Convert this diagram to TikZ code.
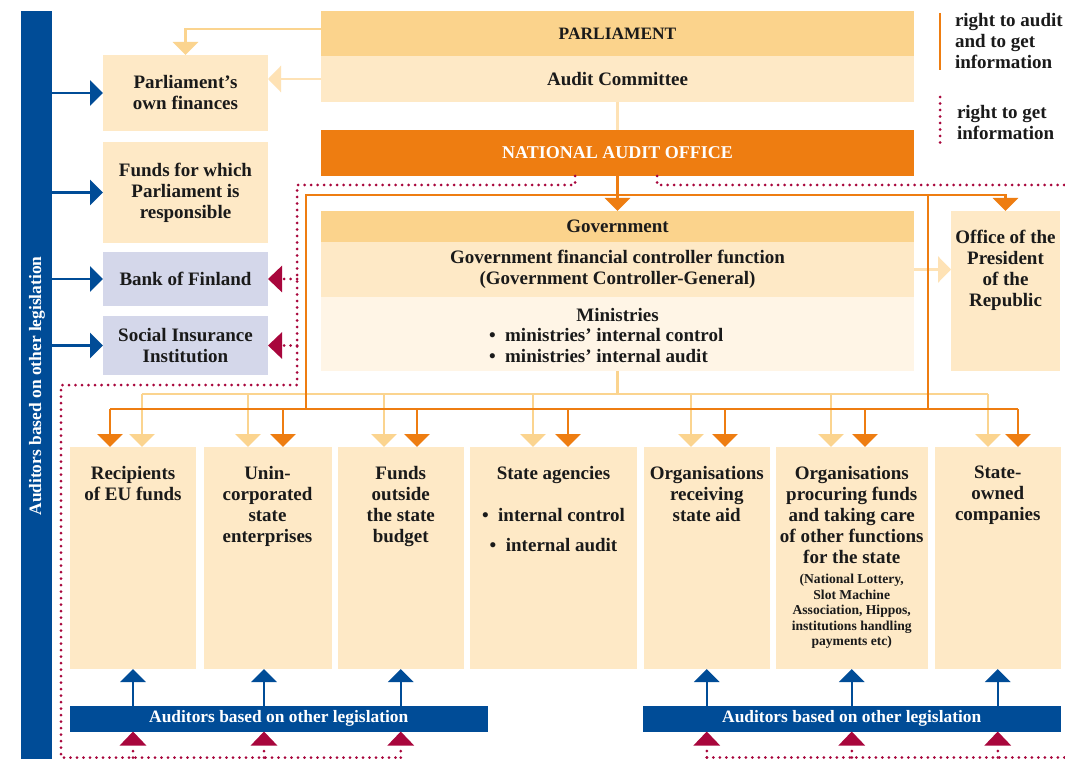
\documentclass[tikz,border=0pt]{standalone}
\usepackage{fontspec}
\setmainfont{Liberation Serif}
\usetikzlibrary{arrows.meta}
\definecolor{dkY}{HTML}{FBD38C}
\definecolor{ltY}{HTML}{FEE9C6}
\definecolor{vlY}{HTML}{FFF5E6}
\definecolor{orng}{HTML}{EE7D11}
\definecolor{yline}{HTML}{FBD48F}
\definecolor{pline}{HTML}{FEE2B5}
\definecolor{blu}{HTML}{004C97}
\definecolor{lav}{HTML}{D4D7EA}
\definecolor{crim}{HTML}{A8063C}
\definecolor{ink}{HTML}{1A1A1A}
\begin{document}
\begin{tikzpicture}[x=1pt,y=-1pt,
  every node/.style={inner sep=0pt, outer sep=0pt, text=ink, font=\bfseries\fontsize{19}{21}\selectfont},
  smalltxt/.style={font=\bfseries\fontsize{13.6}{15.5}\selectfont},
  bartxt/.style={text=white, font=\bfseries\fontsize{17.4}{19}\selectfont},
  oline/.style={draw=orng, line width=2.5pt},
  oarr/.style={oline, -{Triangle[width=25pt,length=13pt]}},
  yl/.style={draw=yline, line width=2.5pt},
  yarr/.style={yl, -{Triangle[width=25pt,length=13pt]}},
  pl/.style={draw=pline, line width=2.5pt},
  parr/.style={pl, -{Triangle[width=26pt,length=13pt]}},
  barr/.style={draw=blu, line width=2.5pt, -{Triangle[width=25pt,length=13pt]}},
  dots/.style={draw=crim, line width=3pt, line cap=round, dash pattern=on 0pt off 6.5pt},
  rarr/.style={dots, -{Triangle[width=26pt,length=14pt]}},
]
\useasboundingbox (0,0) rectangle (1065,759);
\fill[white] (0,0) rectangle (1065,759);

% left vertical bar
\node[fill=blu, minimum width=31pt, minimum height=748pt] (bar) at (36.5,385) {};
\node[bartxt, rotate=90] (bartext) at (37,386) {Auditors based on other legislation};

% top column
\node[fill=dkY, minimum width=593pt, minimum height=45pt, font=\bfseries\fontsize{17.4}{19}\selectfont] (parl) at (617.5,33.5) {PARLIAMENT};
\node[fill=ltY, minimum width=593pt, minimum height=46pt] (audit) at (617.5,79) {Audit Committee};
\node[fill=orng, text=white, minimum width=593pt, minimum height=46pt, font=\bfseries\fontsize{18}{20}\selectfont] (nao) at (617.5,153) {NATIONAL AUDIT OFFICE};

% left boxes
\node[fill=ltY, minimum width=165pt, minimum height=76pt, align=center] (own) at (185.5,93) {Parliament's\\own finances};
\node[fill=ltY, minimum width=165pt, minimum height=101pt, align=center] (funds) at (185.5,192.5) {Funds for which\\Parliament is\\responsible};
\node[fill=lav, minimum width=165pt, minimum height=54pt] (bank) at (185.5,279) {Bank of Finland};
\node[fill=lav, minimum width=165pt, minimum height=59pt, align=center] (social) at (185.5,345.5) {Social Insurance\\Institution};

% government
\node[fill=dkY, minimum width=593pt, minimum height=31pt] (gov) at (617.5,226.5) {Government};
\node[fill=ltY, minimum width=593pt, minimum height=55pt, align=center] (ctrl) at (617.5,269.5) {Government financial controller function\\(Government Controller-General)};
\node[fill=vlY, minimum width=593pt, minimum height=74pt] (min) at (617.5,334) {};
\node (mint) at (617.5,315) {Ministries};
\node[anchor=west, align=left] (minl) at (489,346) {\textbullet\ \ ministries' internal control\\\textbullet\ \ ministries' internal audit};

% office of the president
\node[fill=ltY, minimum width=109pt, minimum height=160pt] (office) at (1005.5,291) {};
\node[anchor=north, align=center] (officet) at ([yshift=-19pt]office.north) {Office of the\\President\\of the\\Republic};

% bottom boxes
\node[fill=ltY, minimum width=126pt, minimum height=222pt] (b1) at (133,558) {};
\node[fill=ltY, minimum width=128pt, minimum height=222pt] (b2) at (267.5,558) {};
\node[fill=ltY, minimum width=126.5pt, minimum height=222pt] (b3) at (400.75,558) {};
\node[fill=ltY, minimum width=167pt, minimum height=222pt] (b4) at (553.5,558) {};
\node[fill=ltY, minimum width=126.5pt, minimum height=222pt] (b5) at (706.75,558) {};
\node[fill=ltY, minimum width=151.5pt, minimum height=222pt] (b6) at (851.75,558) {};
\node[fill=ltY, minimum width=125.5pt, minimum height=222pt] (b7) at (997.75,558) {};

\node[anchor=north, align=center] (t1) at ([yshift=-19pt]b1.north) {Recipients\\of EU funds};
\node[anchor=north, align=center] (t2) at ([yshift=-19pt]b2.north) {Unin-\\corporated\\state\\enterprises};
\node[anchor=north, align=center] (t3) at ([yshift=-19pt]b3.north) {Funds\\outside\\the state\\budget};
\node[anchor=north, align=center] (t4) at ([yshift=-19pt]b4.north) {State agencies\\[21pt]\textbullet\ \ internal control\\[9pt]\textbullet\ \ internal audit};
\node[anchor=north, align=center] (t5) at ([yshift=-19pt]b5.north) {Organisations\\receiving\\state aid};
\node[anchor=north, align=center] (t6) at ([yshift=-19pt]b6.north) {Organisations\\procuring funds\\and taking care\\of other functions\\for the state};
\node[anchor=north, align=center, smalltxt] (t6s) at ([yshift=-127.5pt]b6.north) {(National Lottery,\\Slot Machine\\Association, Hippos,\\institutions handling\\payments etc)};
\node[anchor=north, align=center] (t7) at ([yshift=-19pt]b7.north) {State-\\owned\\companies};

% auditors bars
\node[fill=blu, bartxt, minimum width=418.5pt, minimum height=25.5pt] (aud1) at (278.75,718.75) {Auditors based on other legislation};
\node[fill=blu, bartxt, minimum width=418.5pt, minimum height=25.5pt] (aud2) at (851.75,718.75) {Auditors based on other legislation};

% legend
\coordinate (lgA) at (940,13); \coordinate (lgB) at (940,70);
\draw[oline] (lgA) -- (lgB);
\node[anchor=west, align=left] (lgt1) at (955,41.5) {right to audit\\and to get\\information};
\coordinate (lgC) at (940,97); \coordinate (lgD) at (940,148);
\draw[dots] (lgC) -- (lgD);
\node[anchor=west, align=left] (lgt2) at (957,123) {right to get\\information};

% pale / yellow connectors
\draw[yarr] ([yshift=4.5pt]parl.west) -| (own.north);
\draw[parr] (audit.west) -- (audit.west -| own.east);
\draw[pl] (audit.south) -- (nao.north);
\draw[parr] (ctrl.east) -- (ctrl.east -| office.west);

\coordinate (ybl) at (142,394); \coordinate (ybr) at (988,394);
\draw[yl] (min.south) -- (min.south |- ybl);
\draw[yl] (ybl) -- (ybr);
\coordinate (y1) at (142,394); \coordinate (y2) at (248,394); \coordinate (y3) at (384,394);
\coordinate (y4) at (533,394); \coordinate (y5) at (691,394); \coordinate (y6) at (831,394);
\coordinate (y7) at (988,394);
\foreach \c/\b in {y1/b1,y2/b2,y3/b3,y4/b4,y5/b5,y6/b6,y7/b7}
  \draw[yarr] (\c) -- (\c |- \b.north);

% orange connectors
\draw[oarr] (nao.south) -- (gov.north);
\coordinate (ftl) at (306,195); \coordinate (ftr) at (928,195);
\coordinate (obl) at (110,409); \coordinate (obr) at (1018,409);
\draw[oline] (ftl |- obl) -- (ftl) -- (ftr) -- (ftr |- obl);
\draw[oarr] (ftr) -| (office.north);
\draw[oline] (obl) -- (obr);
\coordinate (o1) at (110,409); \coordinate (o2) at (283,409); \coordinate (o3) at (417,409);
\coordinate (o4) at (568,409); \coordinate (o5) at (725,409); \coordinate (o6) at (865,409);
\coordinate (o7) at (1018,409);
\foreach \c/\b in {o1/b1,o2/b2,o3/b3,o4/b4,o5/b5,o6/b6,o7/b7}
  \draw[oarr] (\c) -- (\c |- \b.north);

% blue arrows
\coordinate (b2x) at ([xshift=-3.5pt]b2.south);
\foreach \n in {own,funds,bank,social}
  \draw[barr] (bar.east |- \n.west) -- (\n.west);
\draw[barr] (b1.south |- aud1.north) -- (b1.south);
\draw[barr] (b2x |- aud1.north) -- (b2x);
\draw[barr] (b3.south |- aud1.north) -- (b3.south);
\draw[barr] (b5.south |- aud2.north) -- (b5.south);
\draw[barr] (b6.south |- aud2.north) -- (b6.south);
\draw[barr] (b7.south |- aud2.north) -- (b7.south);

% dotted (right to get information)
\coordinate (dA) at (575,185); \coordinate (dB) at (297,185); \coordinate (dC) at (297,385);
\coordinate (dD) at (61,385); \coordinate (dE) at (61,757.5);
\draw[dots] (nao.south -| dA) -- (dA) -- (dB) -- (dC) -- (dD) -- (dE) -- (dE -| b3.south);
\draw[rarr] (dB |- bank.east) -- (bank.east);
\draw[rarr] (dB |- social.east) -- (social.east);
\draw[rarr] (dE -| b1.south) -- (aud1.south -| b1.south);
\draw[rarr] (dE -| b2x) -- (aud1.south -| b2x);
\draw[rarr] (dE -| b3.south) -- (aud1.south -| b3.south);

\coordinate (dF) at (657,185); \coordinate (dG) at (1065,185);
\draw[dots] (nao.south -| dF) -- (dF) -- (dG);
\coordinate (dH) at (1065,757.5);
\draw[dots] (dH -| b5.south) -- (dH);
\draw[rarr] (dH -| b5.south) -- (aud2.south -| b5.south);
\draw[rarr] (dH -| b6.south) -- (aud2.south -| b6.south);
\draw[rarr] (dH -| b7.south) -- (aud2.south -| b7.south);
\end{tikzpicture}
\end{document}
